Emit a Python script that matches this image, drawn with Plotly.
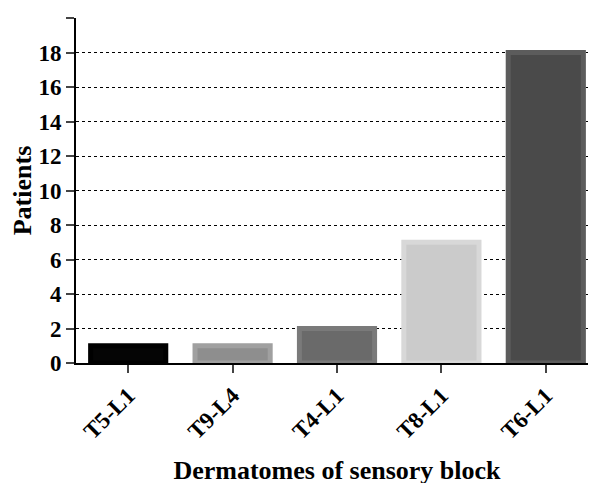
import plotly.graph_objects as go

categories = ["T5-L1", "T9-L4", "T4-L1", "T8-L1", "T6-L1"]
patients = [1, 1, 2, 7, 18]
fill_colors = ["#050505", "#8e8e8e", "#6a6a6a", "#cbcbcb", "#4a4a4a"]
line_colors = ["#000000", "#a0a0a0", "#7a7a7a", "#d8d8d8", "#5c5c5c"]

fig = go.Figure(go.Bar(
    x=categories, y=patients, width=0.72,
    marker=dict(color=fill_colors, line=dict(color=line_colors, width=5)),
))
font = dict(family="Liberation Serif", color="black", size=23)
fig.update_layout(
    width=596, height=483, plot_bgcolor="white", paper_bgcolor="white",
    margin=dict(l=68, r=6, t=10, b=128), showlegend=False,
    font=font,
    xaxis=dict(title=dict(text="<b>Dermatomes of sensory block</b>", font=dict(size=26), standoff=18),
               tickangle=-45, ticks="outside", ticklen=8, tickwidth=2, showline=True,
               linecolor="black", linewidth=2, tickfont=dict(size=23),
               tickvals=categories, ticktext=[f"<b>{c}</b>" for c in categories]),
    yaxis=dict(title=dict(text="<b>Patients</b>", font=dict(size=26), standoff=6),
               range=[0, 20], dtick=2, ticks="outside", ticklen=8, tickwidth=2,
               showline=True, linecolor="black", linewidth=2,
               showgrid=True, gridcolor="black", griddash="dot", gridwidth=1,
               tickvals=list(range(0, 21, 2)), ticktext=[f"<b>{v}</b>" for v in range(0, 21, 2)]),
)
fig.write_html("out.html")
